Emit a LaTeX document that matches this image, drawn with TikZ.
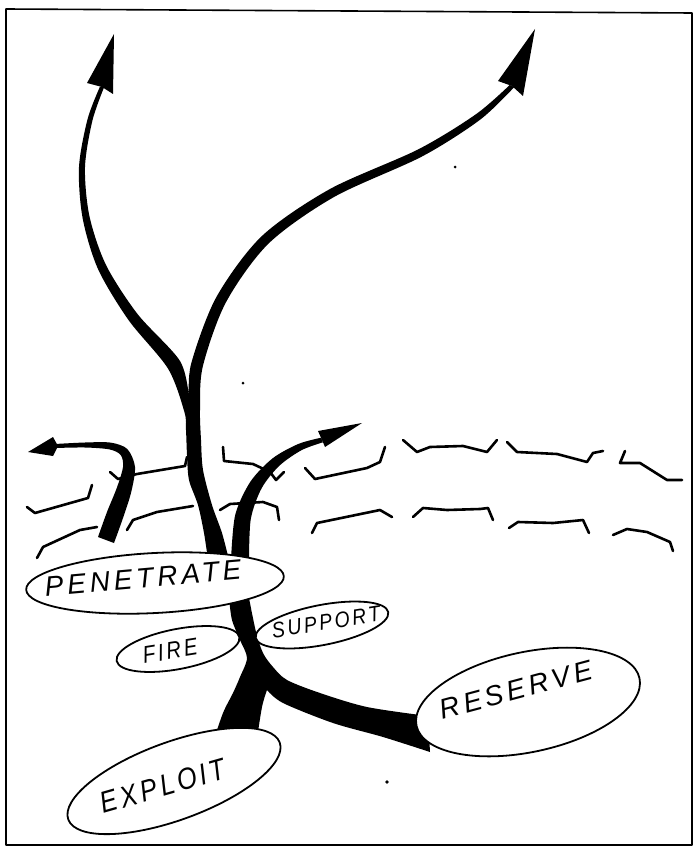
\documentclass[tikz,border=0pt]{standalone}
\usepackage{fontspec}
\newfontfamily\hand[LetterSpace=14]{Liberation Sans}
\usetikzlibrary{shapes.geometric}
\tikzset{
  blob/.style={ellipse, draw=black, line width=1.8pt, fill=white, inner sep=0pt},
  word/.style={inner sep=0pt, font=\hand\itshape\fontsize{#1}{#1}\selectfont},
  front/.style={line width=2.6pt, line cap=round, line join=round},
  thrust/.style={fill=black},
  rim/.style={line width=1.6pt, line join=round}
}
\begin{document}
\begin{tikzpicture}[x=1pt, y=-1pt]
  \useasboundingbox (0,0) rectangle (694,848);
  \draw[rim] (6,9) -- (692,13) -- (692,845) -- (6,845) -- cycle;

  \draw[front] (27,507) -- (35,513) -- (88,498) -- (92,485);
  \draw[front] (37,558) -- (43,547) -- (80,530) -- (97,527);
  \draw[front] (110,472) -- (118,479) -- (137,474) -- (185,466) -- (187,457);
  \draw[front] (127,530) -- (133,520) -- (157,512) -- (193,506);
  \draw[front] (223,447) -- (224,461) -- (253,464) -- (270,472) -- (276,480) -- (284,472);
  \draw[front] (220,510) -- (230,504) -- (263,502) -- (277,507) -- (279,520);
  \draw[front] (305,468) -- (315,479) -- (367,468) -- (380,462) -- (385,447);
  \draw[front] (312,533) -- (317,523) -- (380,510) -- (392,517);
  \draw[front] (403,440) -- (417,452) -- (430,447) -- (463,446) -- (487,452) -- (497,440);
  \draw[front] (413,517) -- (423,508) -- (447,510) -- (480,509) -- (488,508) -- (493,520);
  \draw[front] (507,442) -- (517,452) -- (557,454) -- (587,462) -- (593,453) -- (603,451);
  \draw[front] (509,528) -- (518,522) -- (553,523) -- (583,520) -- (589,533);
  \draw[front] (625,451) -- (620,463) -- (640,463) -- (667,480) -- (682,480);
  \draw[front] (613,535) -- (627,529) -- (647,532) -- (670,542) -- (673,551);

  \coordinate (tipL) at (114,34);
  \coordinate (tipR) at (535,29);
  \coordinate (tipW) at (28,452);
  \coordinate (tipE) at (362,423);

  \fill[thrust] plot[smooth] coordinates {(208,560) (204,533) (198,505) (189,480) (187,455)
      (186,430) (184.4,412) (168,368.6) (128.5,320) (98,269) (82.6,218) (79,167) (87.6,119) (100,86.6)}
    -- plot[smooth] coordinates {(104,87.4) (92.4,120.6) (85,167) (89.4,216) (106,265)
      (137.5,314) (180,361) (189,398)}
    -- plot[smooth] coordinates {(189,398) (191.2,363.5) (216.2,297.4) (261.5,236.4)
      (329.8,189.1) (418.2,149.4) (476,114.2) (509.7,85)}
    -- plot[smooth] coordinates {(514.3,87) (480,119.8) (421.8,156.6) (334.2,196.9)
      (268.5,243.6) (225.8,302.6) (202.8,366.5) (200,410) (201,440) (203,470) (212,505)
      (222,533) (229,560)} -- cycle;
  \fill[thrust] (tipL) -- (87,83) -- (102,87) -- (113,94) -- cycle;
  \fill[thrust] (tipR) -- (498,81) -- (512,86) -- (523,96) -- cycle;

  \fill[thrust] plot[smooth] coordinates {(98,537) (107,512) (116.8,487.9) (123,467)
      (120.7,455) (109.4,449.4) (85,447.5) (55,448)}
    -- plot[smooth] coordinates {(55,444) (85,442.5) (110.6,442.6) (127.3,449) (135,467)
      (131.2,492.1) (123,518) (114,543)} -- cycle;
  \fill[thrust] (tipW) -- (53,437) -- (58,446) -- (53,456) -- cycle;

  \fill[thrust] plot[smooth] coordinates {(231,560) (235.2,515) (250.4,481.7) (272.8,458.2)
      (298.5,443.9) (321.1,437.7)}
    -- plot[smooth] coordinates {(322.9,442.3) (301.5,450.2) (279.3,465.8) (261.6,488.3)
      (250.8,519) (249,561)} -- cycle;
  \fill[thrust] (tipE) -- (318,431) -- (322,440) -- (325,447) -- cycle;

  \fill[thrust] plot[smooth] coordinates {(229,598) (232,620) (240,640) (247,658) (240,677)
      (233,693) (223,713) (212,745)}
    -- plot[smooth] coordinates {(256,745) (262,707) (267,690)}
    -- plot[smooth] coordinates {(267,690) (283,703) (333,723) (383,737) (430,752)}
    -- plot[smooth] coordinates {(428,716) (367,707) (320,693) (287,680) (273,667)
      (263,653) (256,632) (249,598)} -- cycle;

  \node[blob, minimum width=258pt, minimum height=60pt, rotate=3] (pen) at (155,583) {};
  \node[blob, minimum width=125pt, minimum height=40pt, rotate=11] (fire) at (178,649) {};
  \node[blob, minimum width=135pt, minimum height=40pt, rotate=11] (supp) at (322,625) {};
  \node[blob, minimum width=225pt, minimum height=78pt, rotate=20] (expl) at (174,781) {};
  \node[blob, minimum width=228pt, minimum height=100pt, rotate=12] (resv) at (528,702) {};

  \node[word=28, rotate=5] (penW) at (143,578) {PENETRATE};
  \node[word=24, rotate=9, xscale=0.85] (fireW) at (170,651) {FIRE};
  \node[word=22, rotate=9, xscale=0.88] (suppW) at (326,622) {SUPPORT};
  \node[word=30, rotate=16, xscale=0.85] (explW) at (163,786) {EXPLOIT};
  \node[word=28, rotate=15] (resvW) at (516,690) {RESERVE};

  \fill (455,167) circle (1.5);
  \fill (243,383) circle (1.5);
  \fill (387,782) circle (1.8);
\end{tikzpicture}
\end{document}
